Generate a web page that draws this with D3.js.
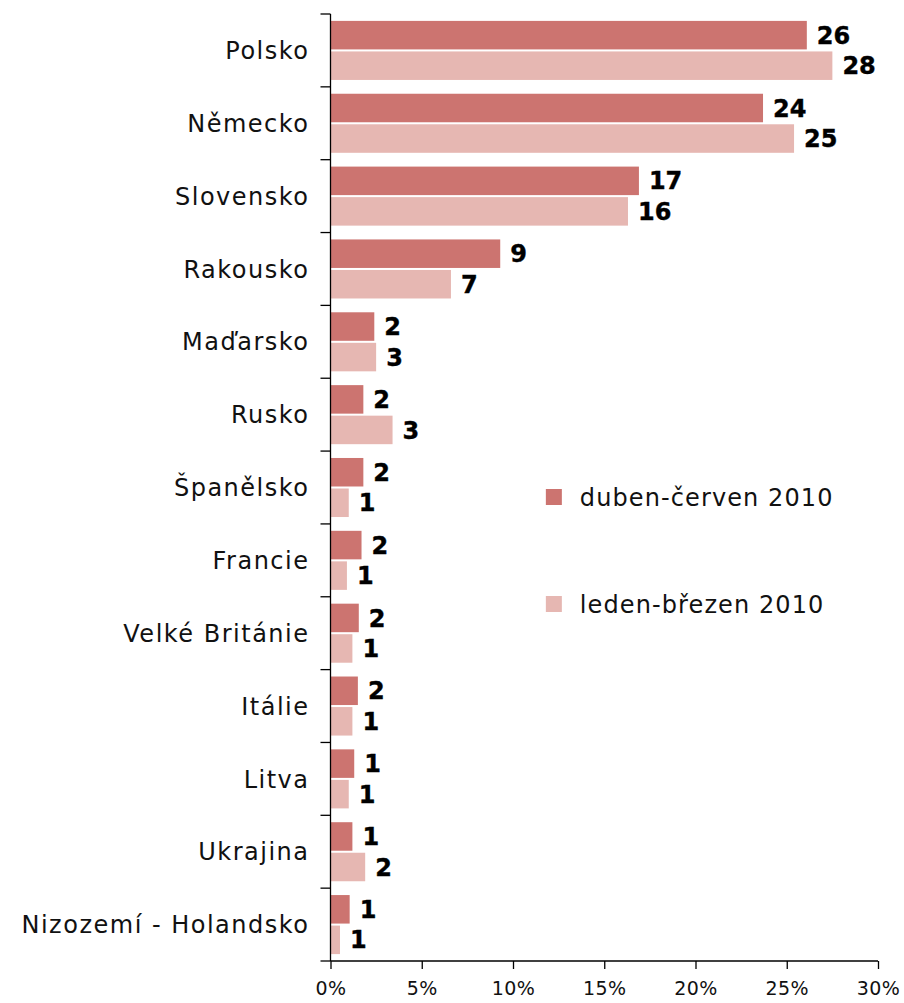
<!DOCTYPE html>
<html>
<head>
<meta charset="utf-8">
<script src="https://cdn.jsdelivr.net/npm/d3@7"></script>
<style>
  body { margin: 0; background: #fff; }
  svg { display: block; font-family: "DejaVu Sans", Verdana, sans-serif; }
</style>
</head>
<body>
<svg id="chart"></svg>
<script>
const categories = ["Polsko", "Německo", "Slovensko", "Rakousko", "Maďarsko", "Rusko", "Španělsko",
  "Francie", "Velké Británie", "Itálie", "Litva", "Ukrajina", "Nizozemí - Holandsko"];
const seriesNames = ["duben-červen 2010", "leden-březen 2010"];
const aprJun = [26.1, 23.7, 16.9, 9.3, 2.4, 1.8, 1.8, 1.7, 1.55, 1.5, 1.3, 1.2, 1.05];
const janMar = [27.5, 25.4, 16.3, 6.6, 2.5, 3.4, 1.0, 0.9, 1.2, 1.2, 1.0, 1.9, 0.52];
const xTicks = [0, 5, 10, 15, 20, 25, 30];

const colors = ["#cc7470", "#e6b7b2"];
const W = 904, H = 1003;
const margin = { top: 14, right: 26, bottom: 42, left: 330.5 };
const width = W - margin.left - margin.right;
const height = H - margin.top - margin.bottom;

const svg = d3.select("#chart").attr("width", W).attr("height", H)
  .append("g")
  .attr("transform", `translate(${margin.left},${margin.top})`);

const x = d3.scaleLinear().domain([0, 30]).range([0, width]);
const y = d3.scaleBand().domain(categories).range([0, height]);
const sub = d3.scaleBand().domain(seriesNames).range([0, y.bandwidth()])
  .paddingInner(0.066).paddingOuter(0.226);

const rows = categories.map((c, i) => ({ cat: c, vals: [aprJun[i], janMar[i]] }));

const groups = svg.selectAll(".grp").data(rows).join("g")
  .attr("class", "grp")
  .attr("transform", d => `translate(0,${y(d.cat)})`);

groups.selectAll("rect").data(d => d.vals.map((v, k) => ({ v, k }))).join("rect")
  .attr("x", 0.5)
  .attr("y", d => sub(seriesNames[d.k]))
  .attr("width", d => x(d.v) - 0.5)
  .attr("height", sub.bandwidth())
  .attr("fill", d => colors[d.k]);

groups.selectAll(".val").data(d => d.vals.map((v, k) => ({ v, k }))).join("text")
  .attr("class", "val")
  .attr("x", d => x(d.v) + 10)
  .attr("y", d => sub(seriesNames[d.k]) + sub.bandwidth() / 2)
  .attr("dy", "0.36em")
  .attr("font-size", 24)
  .attr("font-weight", "bold")
  .attr("fill", "#000")
  .attr("stroke", "#000").attr("stroke-width", 0.4)
  .text(d => Math.round(d.v));

// category labels
svg.selectAll(".cat").data(categories).join("text")
  .attr("class", "cat")
  .attr("x", -21)
  .attr("y", d => y(d) + y.bandwidth() / 2)
  .attr("dy", "0.36em")
  .attr("text-anchor", "end")
  .attr("font-size", 24)
  .attr("letter-spacing", 1.5)
  .attr("fill", "#111")
  .text(d => d);

// y axis line + ticks at band borders
svg.append("line").attr("x1", 0).attr("x2", 0).attr("y1", 0).attr("y2", height)
  .attr("stroke", "#000").attr("stroke-width", 1.3);
const borders = categories.map(c => y(c)).concat([height]);
svg.selectAll(".ytick").data(borders).join("line")
  .attr("class", "ytick")
  .attr("x1", -10).attr("x2", 0)
  .attr("y1", d => d).attr("y2", d => d)
  .attr("stroke", "#000").attr("stroke-width", 1.3);

// x axis
const xAxis = d3.axisBottom(x).tickValues(xTicks).tickSize(8).tickPadding(13)
  .tickFormat(d => d + "%");
const gx = svg.append("g").attr("transform", `translate(0,${height})`).call(xAxis);
gx.select(".domain").attr("stroke", "#000").attr("stroke-width", 1.3).attr("d", `M0,0H${width}`);
gx.selectAll(".tick line").attr("stroke", "#000").attr("stroke-width", 1.3);
gx.selectAll(".tick text").attr("font-size", 19).attr("fill", "#111")
  .attr("letter-spacing", 0.5)
  .attr("font-family", "DejaVu Sans, Verdana, sans-serif");

// legend
const legend = svg.append("g").attr("transform", `translate(${x(11.8)},0)`);
const legY = [483, 590];
seriesNames.forEach((s, k) => {
  legend.append("rect").attr("x", 0).attr("y", legY[k] - 8).attr("width", 16).attr("height", 16)
    .attr("fill", colors[k]);
  legend.append("text").attr("x", 34).attr("y", legY[k]).attr("dy", "0.36em")
    .attr("font-size", 24).attr("letter-spacing", 1.1).attr("fill", "#111").text(s);
});
</script>
</body>
</html>
